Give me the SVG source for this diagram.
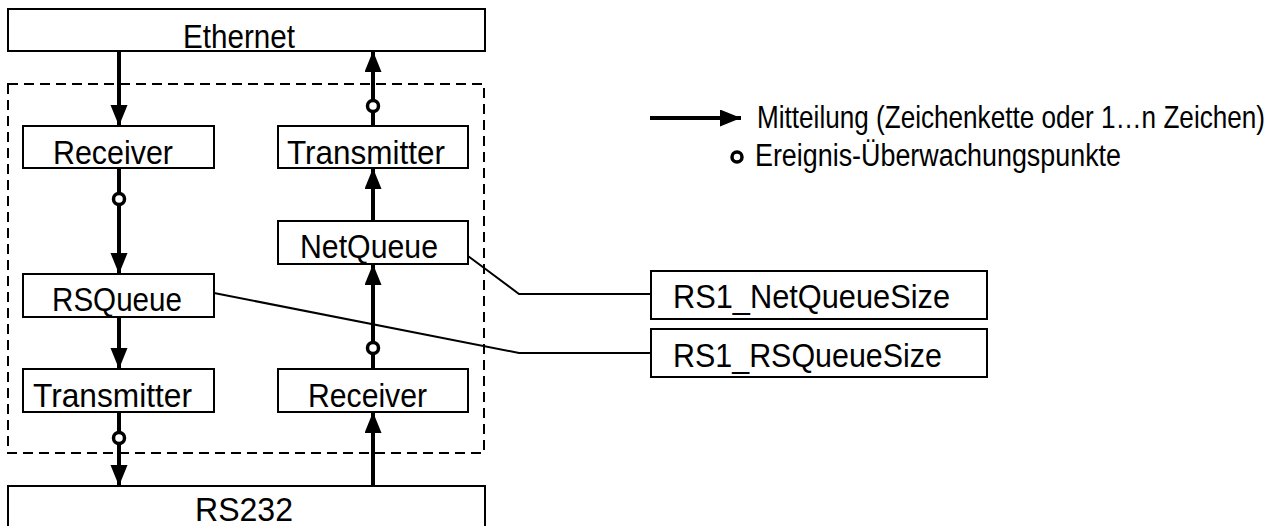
<svg xmlns="http://www.w3.org/2000/svg" width="1277" height="526" viewBox="0 0 1277 526">
  <style>
    .box { fill: #fff; stroke: #000; stroke-width: 2; }
    .lbl { font-family: "Liberation Sans", Arial, sans-serif; font-size: 33px; fill: #000; }
    .leg { font-family: "Liberation Sans", Arial, sans-serif; font-size: 31px; fill: #000; }
    .msg { fill: none; stroke: #000; stroke-width: 4; marker-end: url(#head); }
    .tap { fill: #fff; stroke: #000; stroke-width: 3.5; }
    .link { fill: none; stroke: #000; stroke-width: 2; }
  </style>
  <defs>
    <marker id="head" markerUnits="userSpaceOnUse" markerWidth="24" markerHeight="18" refX="21" refY="8.5" orient="auto">
      <path d="M0,0 L21,8.5 L0,17 Z" fill="#000"/>
    </marker>
  </defs>
  <rect width="1277" height="526" fill="#fff"/>

  <!-- process boundary -->
  <rect id="boundary" x="8" y="84" width="476" height="369" fill="none" stroke="#000" stroke-width="2" stroke-dasharray="10 6"/>

  <g id="ethernet">
    <rect class="box" x="8" y="9" width="477" height="42"/>
    <text class="lbl" x="183" y="48" textLength="112" lengthAdjust="spacingAndGlyphs">Ethernet</text>
  </g>
  <g id="receiver-net">
    <rect class="box" x="23" y="126" width="191" height="42"/>
    <text class="lbl" x="53" y="164" textLength="120" lengthAdjust="spacingAndGlyphs">Receiver</text>
  </g>
  <g id="transmitter-net">
    <rect class="box" x="278" y="126" width="190" height="42"/>
    <text class="lbl" x="287" y="164" textLength="158" lengthAdjust="spacingAndGlyphs">Transmitter</text>
  </g>
  <g id="netqueue">
    <rect class="box" x="278" y="221" width="190" height="43"/>
    <text class="lbl" x="300" y="258" textLength="138" lengthAdjust="spacingAndGlyphs">NetQueue</text>
  </g>
  <g id="rsqueue">
    <rect class="box" x="23" y="274" width="191" height="43"/>
    <text class="lbl" x="52" y="311" textLength="130" lengthAdjust="spacingAndGlyphs">RSQueue</text>
  </g>
  <g id="transmitter-rs">
    <rect class="box" x="23" y="369" width="191" height="43"/>
    <text class="lbl" x="33" y="407" textLength="159" lengthAdjust="spacingAndGlyphs">Transmitter</text>
  </g>
  <g id="receiver-rs">
    <rect class="box" x="278" y="369" width="190" height="43"/>
    <text class="lbl" x="308" y="407" textLength="119" lengthAdjust="spacingAndGlyphs">Receiver</text>
  </g>
  <g id="rs232">
    <rect class="box" x="8" y="486" width="477" height="50"/>
    <text class="lbl" x="195" y="521" textLength="98" lengthAdjust="spacingAndGlyphs">RS232</text>
  </g>
  <g id="rs1-netqueuesize">
    <rect class="box" x="651" y="271" width="336" height="48"/>
    <text class="lbl" x="673" y="308" textLength="277" lengthAdjust="spacingAndGlyphs">RS1_NetQueueSize</text>
  </g>
  <g id="rs1-rsqueuesize">
    <rect class="box" x="651" y="329" width="336" height="48"/>
    <text class="lbl" x="673" y="367" textLength="269" lengthAdjust="spacingAndGlyphs">RS1_RSQueueSize</text>
  </g>

  <g id="connectors">
    <line class="msg" x1="119" y1="51" x2="119" y2="126"/>
    <line class="msg" x1="373" y1="126" x2="373" y2="51"/>
    <line class="msg" x1="119" y1="168" x2="119" y2="274"/>
    <line class="msg" x1="373" y1="221" x2="373" y2="168"/>
    <line class="msg" x1="373" y1="369" x2="373" y2="264"/>
    <line class="msg" x1="119" y1="317" x2="119" y2="369"/>
    <line class="msg" x1="119" y1="412" x2="119" y2="486"/>
    <line class="msg" x1="373" y1="486" x2="373" y2="412"/>
    <!-- event monitoring points -->
    <circle class="tap" cx="373" cy="106" r="5.5"/>
    <circle class="tap" cx="119" cy="199" r="5.5"/>
    <circle class="tap" cx="373" cy="348" r="5.5"/>
    <circle class="tap" cx="119" cy="438" r="5.5"/>
    <!-- parameter links -->
    <polyline class="link" points="468,256 519,294 651,294"/>
    <polyline class="link" points="214,293 519,353 651,353"/>
  </g>

  <g id="legend">
    <line class="msg" x1="650" y1="118" x2="741" y2="118"/>
    <!-- narrower face stretched vertically to keep the tall condensed look -->
    <text class="leg" style="font-size:26.5px" transform="translate(757,128) scale(1,1.16)" x="0" y="0" textLength="508" lengthAdjust="spacingAndGlyphs">Mitteilung (Zeichenkette oder 1…n Zeichen)</text>
    <circle class="tap" cx="737" cy="157" r="5"/>
    <text class="leg" x="755" y="166" textLength="366" lengthAdjust="spacingAndGlyphs">Ereignis-Überwachungspunkte</text>
  </g>
</svg>
